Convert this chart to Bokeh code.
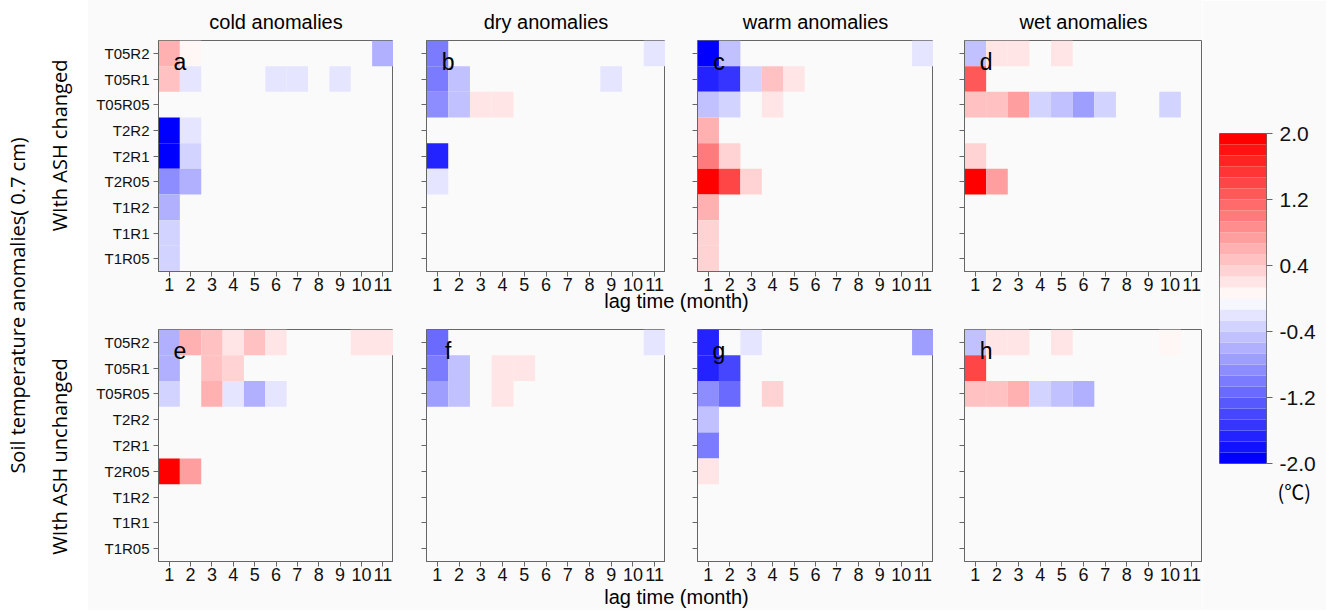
import numpy as np
from bokeh.plotting import figure
from bokeh.layouts import row, column
from bokeh.models import LinearColorMapper, FixedTicker, Range1d, ColumnDataSource, PrintfTickFormatter, Title
from bokeh.core.properties import value
from bokeh.embed import file_html
from bokeh.resources import INLINE

# ---------------- data ----------------
levels = ["T05R2", "T05R1", "T05R05", "T2R2", "T2R1", "T2R05", "T1R2", "T1R1", "T1R05"]
lags = [1, 2, 3, 4, 5, 6, 7, 8, 9, 10, 11]
anomaly_types = ["cold anomalies", "dry anomalies", "warm anomalies", "wet anomalies"]
panel_letters = ["a", "b", "c", "d", "e", "f", "g", "h"]
row_labels = ["WIth ASH changed", "WIth ASH unchanged"]
y_label = "Soil temperature anomalies( 0.7 cm)"
x_label = "lag time (month)"
cbar_ticks = [-2.0, -1.2, -0.4, 0.4, 1.2, 2.0]
cbar_unit = "(\u2103)"
cbar_low, cbar_high, n_levels = -2.0, 2.0, 30

# rows = levels (top to bottom), columns = lag 1..11 ; 0 = no anomaly
cold_changed = [
    [0.65, 0.1, 0, 0, 0, 0, 0, 0, 0, 0, -0.55],
    [0.4, -0.25, 0, 0, 0, -0.2, -0.2, 0, -0.2, 0, 0],
    [0, 0, 0, 0, 0, 0, 0, 0, 0, 0, 0],
    [-2.0, -0.2, 0, 0, 0, 0, 0, 0, 0, 0, 0],
    [-2.0, -0.35, 0, 0, 0, 0, 0, 0, 0, 0, 0],
    [-0.9, -0.65, 0, 0, 0, 0, 0, 0, 0, 0, 0],
    [-0.55, 0, 0, 0, 0, 0, 0, 0, 0, 0, 0],
    [-0.35, 0, 0, 0, 0, 0, 0, 0, 0, 0, 0],
    [-0.35, 0, 0, 0, 0, 0, 0, 0, 0, 0, 0],
]
dry_changed = [
    [-0.98, 0, 0, 0, 0, 0, 0, 0, 0, 0, -0.24],
    [-1.0, -0.5, 0, 0, 0, 0, 0, 0, -0.24, 0, 0],
    [-0.82, -0.5, 0.24, 0.24, 0, 0, 0, 0, 0, 0, 0],
    [0, 0, 0, 0, 0, 0, 0, 0, 0, 0, 0],
    [-1.7, 0, 0, 0, 0, 0, 0, 0, 0, 0, 0],
    [-0.24, 0, 0, 0, 0, 0, 0, 0, 0, 0, 0],
    [0, 0, 0, 0, 0, 0, 0, 0, 0, 0, 0],
    [0, 0, 0, 0, 0, 0, 0, 0, 0, 0, 0],
    [0, 0, 0, 0, 0, 0, 0, 0, 0, 0, 0],
]
warm_changed = [
    [-2.0, -0.5, 0, 0, 0, 0, 0, 0, 0, 0, -0.24],
    [-1.6, -1.5, -0.35, 0.4, 0.24, 0, 0, 0, 0, 0, 0],
    [-0.5, -0.35, 0, 0.24, 0, 0, 0, 0, 0, 0, 0],
    [0.55, 0, 0, 0, 0, 0, 0, 0, 0, 0, 0],
    [0.94, 0.27, 0, 0, 0, 0, 0, 0, 0, 0, 0],
    [2.0, 1.45, 0.27, 0, 0, 0, 0, 0, 0, 0, 0],
    [0.55, 0, 0, 0, 0, 0, 0, 0, 0, 0, 0],
    [0.35, 0, 0, 0, 0, 0, 0, 0, 0, 0, 0],
    [0.35, 0, 0, 0, 0, 0, 0, 0, 0, 0, 0],
]
wet_changed = [
    [-0.5, 0.24, 0.24, 0, 0.24, 0, 0, 0, 0, 0, 0],
    [1.33, 0, 0, 0, 0, 0, 0, 0, 0, 0, 0],
    [0.5, 0.5, 0.7, -0.35, -0.5, -0.67, -0.31, 0, 0, -0.35, 0],
    [0, 0, 0, 0, 0, 0, 0, 0, 0, 0, 0],
    [0.27, 0, 0, 0, 0, 0, 0, 0, 0, 0, 0],
    [2.0, 0.78, 0, 0, 0, 0, 0, 0, 0, 0, 0],
    [0, 0, 0, 0, 0, 0, 0, 0, 0, 0, 0],
    [0, 0, 0, 0, 0, 0, 0, 0, 0, 0, 0],
    [0, 0, 0, 0, 0, 0, 0, 0, 0, 0, 0],
]
cold_unchanged = [
    [-0.63, 0.55, 0.4, 0.24, 0.4, 0.24, 0, 0, 0, 0.24, 0.24],
    [-0.63, 0, 0.4, 0.3, 0, 0, 0, 0, 0, 0, 0],
    [-0.31, 0, 0.55, -0.24, -0.55, -0.24, 0, 0, 0, 0, 0],
    [0, 0, 0, 0, 0, 0, 0, 0, 0, 0, 0],
    [0, 0, 0, 0, 0, 0, 0, 0, 0, 0, 0],
    [2.0, 0.75, 0, 0, 0, 0, 0, 0, 0, 0, 0],
    [0, 0, 0, 0, 0, 0, 0, 0, 0, 0, 0],
    [0, 0, 0, 0, 0, 0, 0, 0, 0, 0, 0],
    [0, 0, 0, 0, 0, 0, 0, 0, 0, 0, 0],
]
dry_unchanged = [
    [-1.18, 0, 0, 0, 0, 0, 0, 0, 0, 0, -0.24],
    [-1.06, -0.47, 0, 0.24, 0.24, 0, 0, 0, 0, 0, 0],
    [-0.7, -0.47, 0, 0.24, 0, 0, 0, 0, 0, 0, 0],
    [0, 0, 0, 0, 0, 0, 0, 0, 0, 0, 0],
    [0, 0, 0, 0, 0, 0, 0, 0, 0, 0, 0],
    [0, 0, 0, 0, 0, 0, 0, 0, 0, 0, 0],
    [0, 0, 0, 0, 0, 0, 0, 0, 0, 0, 0],
    [0, 0, 0, 0, 0, 0, 0, 0, 0, 0, 0],
    [0, 0, 0, 0, 0, 0, 0, 0, 0, 0, 0],
]
warm_unchanged = [
    [-1.65, 0, -0.24, 0, 0, 0, 0, 0, 0, 0, -0.67],
    [-1.65, -1.45, 0, 0, 0, 0, 0, 0, 0, 0, 0],
    [-0.9, -1.2, 0, 0.31, 0, 0, 0, 0, 0, 0, 0],
    [-0.47, 0, 0, 0, 0, 0, 0, 0, 0, 0, 0],
    [-0.94, 0, 0, 0, 0, 0, 0, 0, 0, 0, 0],
    [0.24, 0, 0, 0, 0, 0, 0, 0, 0, 0, 0],
    [0, 0, 0, 0, 0, 0, 0, 0, 0, 0, 0],
    [0, 0, 0, 0, 0, 0, 0, 0, 0, 0, 0],
    [0, 0, 0, 0, 0, 0, 0, 0, 0, 0, 0],
]
wet_unchanged = [
    [-0.5, 0.24, 0.24, 0, 0.24, 0, 0, 0, 0, 0.1, 0],
    [1.4, 0, 0, 0, 0, 0, 0, 0, 0, 0, 0],
    [0.5, 0.4, 0.6, -0.35, -0.5, -0.63, 0, 0, 0, 0, 0],
    [0, 0, 0, 0, 0, 0, 0, 0, 0, 0, 0],
    [0, 0, 0, 0, 0, 0, 0, 0, 0, 0, 0],
    [0, 0, 0, 0, 0, 0, 0, 0, 0, 0, 0],
    [0, 0, 0, 0, 0, 0, 0, 0, 0, 0, 0],
    [0, 0, 0, 0, 0, 0, 0, 0, 0, 0, 0],
    [0, 0, 0, 0, 0, 0, 0, 0, 0, 0, 0],
]

# ---------------- style ----------------
FONT = "Liberation Sans"
SIDE_FONT = "Open Sans"
BG = "#fafafa"
EDGE = "#666666"


def bwr_palette(n):
    cols = []
    for i in range(n):
        s = -1 + 2 * i / (n - 1)
        if s < 0:
            g = int(round(255 * (1 + s)))
            cols.append("#%02x%02x%02x" % (g, g, 255))
        else:
            g = int(round(255 * (1 - s)))
            cols.append("#%02x%02x%02x" % (255, g, g))
    return cols


palette = bwr_palette(n_levels)
mapper = LinearColorMapper(palette=palette, low=cbar_low, high=cbar_high)


def make_panel(grid, letter, title, left_border, fw, fh, top, show_ylabels):
    xs, ys, vs = [], [], []
    for r, vals in enumerate(grid):
        for c, v in enumerate(vals):
            if v != 0:
                xs.append(lags[c])
                ys.append(r + 1)
                vs.append(v)
    src = ColumnDataSource(dict(lag=xs, lev=ys, val=vs))
    p = figure(frame_width=fw, frame_height=fh,
               x_range=Range1d(0.5, 11.5), y_range=Range1d(9.5, 0.5),
               output_backend="svg", toolbar_location=None,
               min_border_left=left_border, min_border_right=0,
               min_border_top=40 if top else 0, min_border_bottom=30,
               background_fill_color=BG, border_fill_color=BG,
               outline_line_color=EDGE, title=title)
    p.rect(x="lag", y="lev", width=1, height=1, source=src,
           fill_color={"field": "val", "transform": mapper}, line_color=None)
    p.text(x=[1.5], y=[1.33], text=[letter], text_align="center", text_baseline="middle",
           text_font=value(FONT), text_font_size="23px", text_color="black")
    if top:
        p.title.text_font = FONT
        p.title.text_font_size = "20px"
        p.title.text_font_style = "normal"
        p.title.align = "center"
        p.title.standoff = 15
        p.title.text_color = "black"
    p.xgrid.visible = False
    p.ygrid.visible = False
    ax = p.xaxis[0]
    ax.ticker = FixedTicker(ticks=lags)
    ax.major_label_text_font = FONT
    ax.major_label_text_font_size = "18px"
    ax.major_label_text_color = "#111111"
    ax.major_label_standoff = 1
    ax.major_tick_out = 5
    ax.major_tick_in = 0
    ax.minor_tick_out = 0
    ax.minor_tick_in = 0
    ax.axis_line_color = EDGE
    ax.major_tick_line_color = EDGE
    ay = p.yaxis[0]
    ay.ticker = FixedTicker(ticks=list(range(1, len(levels) + 1)))
    ay.major_tick_out = 5
    ay.major_tick_in = 0
    ay.minor_tick_out = 0
    ay.minor_tick_in = 0
    ay.axis_line_color = EDGE
    ay.major_tick_line_color = EDGE
    if show_ylabels:
        ay.major_label_overrides = {i + 1: lev for i, lev in enumerate(levels)}
        ay.major_label_text_font = FONT
        ay.major_label_text_font_size = "15px"
        ay.major_label_text_color = "#111111"
        ay.major_label_standoff = 4
    else:
        ay.major_label_text_font_size = "0px"
        ay.major_label_text_color = None
        ay.major_label_standoff = 0
    return p


grids_top = [cold_changed, dry_changed, warm_changed, wet_changed]
grids_bot = [cold_unchanged, dry_unchanged, warm_unchanged, wet_unchanged]
left_borders = [70, 33, 32, 31]
frame_ws = [235, 239, 236, 238]

top_figs = [make_panel(g, panel_letters[i], anomaly_types[i], left_borders[i], frame_ws[i], 231, True, i == 0)
            for i, g in enumerate(grids_top)]
bot_figs = [make_panel(g, panel_letters[i + 4], None, left_borders[i], frame_ws[i], 232, False, i == 0)
            for i, g in enumerate(grids_bot)]


def text_fig(w, h, x0, x1):
    f = figure(width=w, height=h, x_range=Range1d(x0, x1), y_range=Range1d(0, h),
               output_backend="svg", toolbar_location=None, min_border=0,
               x_axis_location=None, y_axis_location=None, outline_line_color=None)
    f.xgrid.visible = False
    f.ygrid.visible = False
    return f


LEFT_W = 88
PANELS_W = 1114
TOTAL_H = 610

# lag-time labels (overlap the tick-label strip of the panel row above)
lab1 = text_fig(PANELS_W, 58, LEFT_W, LEFT_W + PANELS_W)
lab1.background_fill_alpha = 0
lab1.border_fill_alpha = 0
lab1.text(x=[676], y=[58 - 29], text=[x_label], text_align="center", text_baseline="middle",
          text_font=value(FONT), text_font_size="20px", text_color="black")
lab1.margin = (-30, 0, 0, 0)

lab2 = text_fig(PANELS_W, 49, LEFT_W, LEFT_W + PANELS_W)
lab2.background_fill_alpha = 0
lab2.border_fill_alpha = 0
lab2.text(x=[676], y=[49 - 35], text=[x_label], text_align="center", text_baseline="middle",
          text_font=value(FONT), text_font_size="20px", text_color="black")
lab2.margin = (-30, 0, 0, 0)

# left side labels
left = text_fig(LEFT_W, TOTAL_H, 0, LEFT_W)
left.background_fill_color = "white"
left.border_fill_color = "white"
left.text(x=[17], y=[TOTAL_H - 305], text=[y_label], angle=np.pi / 2, text_align="center",
          text_baseline="middle", text_font=value(SIDE_FONT), text_font_size="20px", text_color="black")
left.text(x=[59, 59], y=[TOTAL_H - 145, TOTAL_H - 456], text=row_labels, angle=np.pi / 2, text_align="center",
          text_baseline="middle", text_font=value(SIDE_FONT), text_font_size="20px", text_color="black")

# colour bar
edges = np.linspace(cbar_low, cbar_high, n_levels + 1)
cb = figure(frame_width=47, frame_height=330, x_range=Range1d(0, 1), y_range=Range1d(cbar_low, cbar_high),
            output_backend="svg", toolbar_location=None, min_border_left=17, min_border_right=60,
            min_border_top=133, min_border_bottom=TOTAL_H - 133 - 330, x_axis_location=None,
            y_axis_location="right",
            background_fill_color=BG, border_fill_color=BG, outline_line_color=EDGE)
cb.quad(left=0, right=1, bottom=edges[:-1], top=edges[1:], fill_color=palette, line_color=None)
cb.xgrid.visible = False
cb.ygrid.visible = False
cax = cb.yaxis[0]
cax.ticker = FixedTicker(ticks=cbar_ticks)
cax.formatter = PrintfTickFormatter(format="%.1f")
cax.major_label_text_font = FONT
cax.major_label_text_font_size = "21px"
cax.major_label_text_color = "#111111"
cax.major_label_standoff = 7
cax.major_tick_out = 6
cax.major_tick_in = 0
cax.minor_tick_out = 0
cax.minor_tick_in = 0
cax.axis_line_color = None
cax.major_tick_line_color = EDGE
cb.add_layout(Title(text=cbar_unit, align="left", offset=58, standoff=22,
                    text_font="Noto Sans CJK SC", text_font_size="20px",
                    text_font_style="normal", text_color="black"), "below")

middle = column(row(*top_figs), lab1, row(*bot_figs), lab2, styles={"background-color": BG})
layout = row(column(left), middle, column(cb))

with open("out.html", "w") as fh:
    fh.write(file_html(layout, INLINE))
